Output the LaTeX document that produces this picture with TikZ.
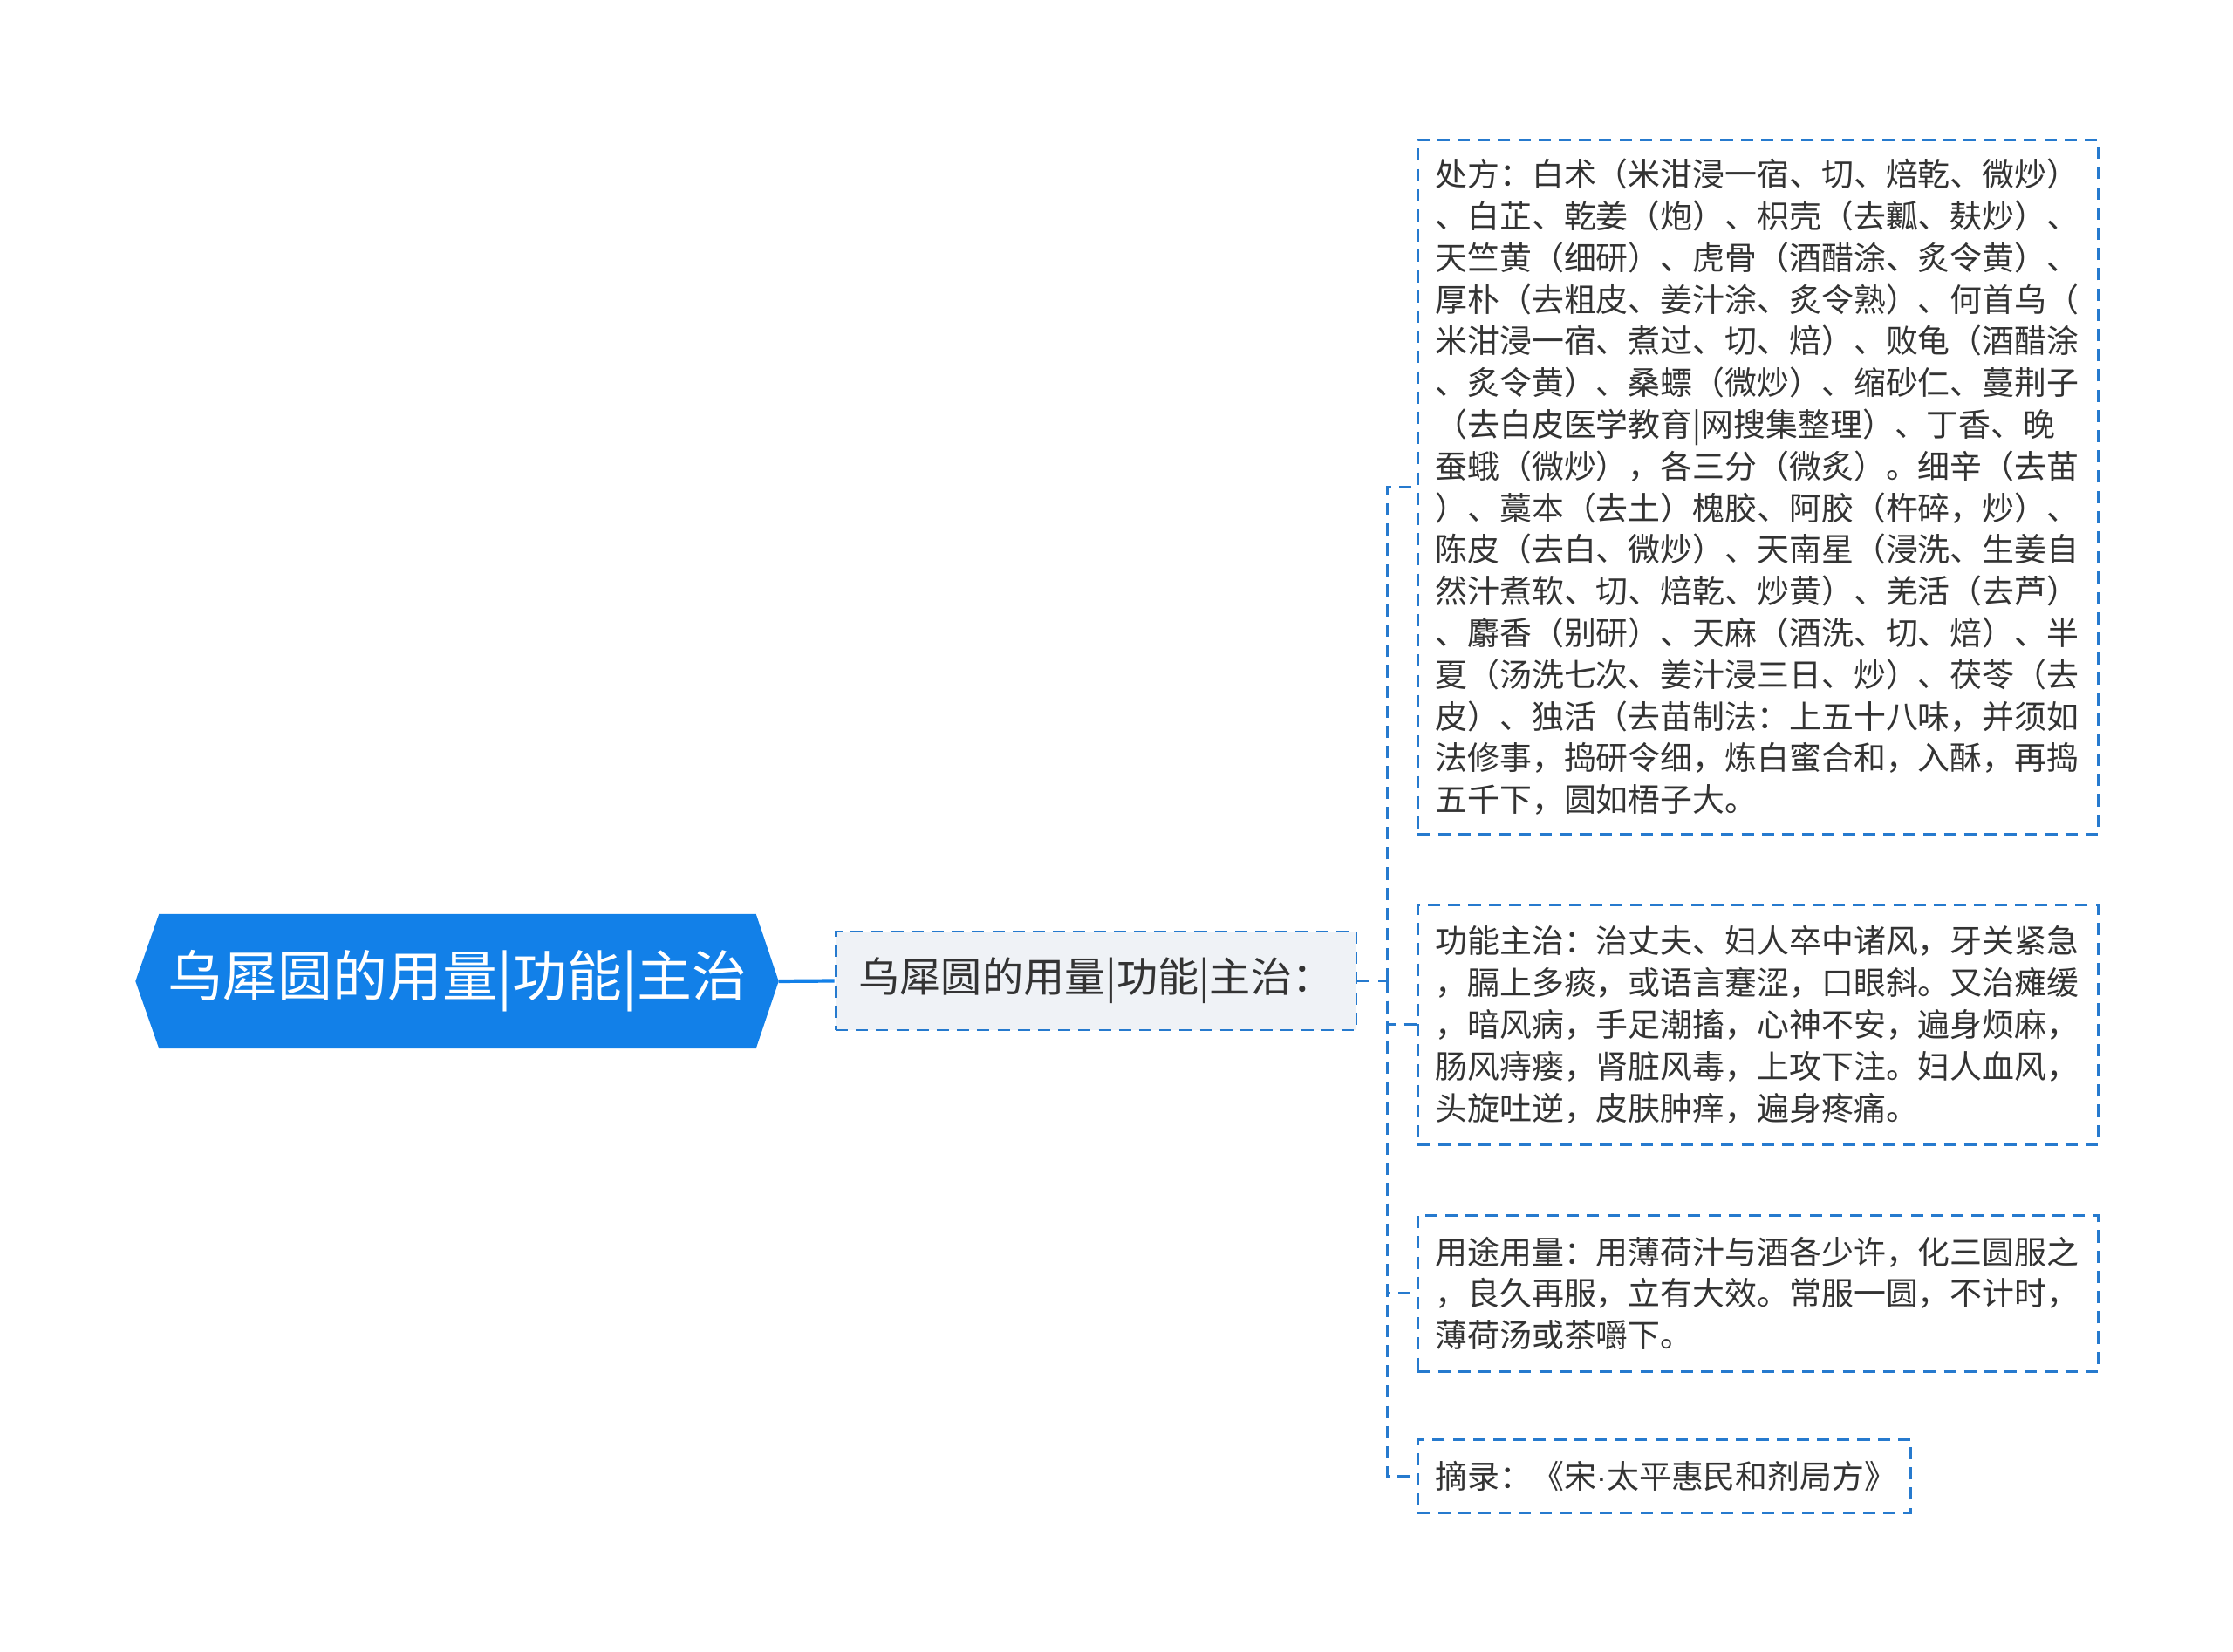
\documentclass[tikz,border=0pt]{standalone}
\usepackage{fontspec}
\newfontfamily\cjkfont{Noto Sans CJK SC}
\newfontfamily\dotfont{Liberation Sans}
\usepackage{tikz}
\usetikzlibrary{
positioning,
calc,
backgrounds
}
\definecolor{rootblue}{RGB}{18,128,232}
\definecolor{edgeblue}{RGB}{38,122,206}
\definecolor{subfill}{RGB}{239,242,246}
\definecolor{txtgray}{RGB}{51,51,51}

\begin{document}
\begin{tikzpicture}[
    box/.style={draw=edgeblue, line width=0.8pt, dash pattern=on 4pt off 2.6pt,
      anchor=north west, align=left, text width=7.4cm, inner xsep=0.2cm, inner ysep=0pt,
      text=txtgray, font=\cjkfont\fontsize{10.5pt}{13.6pt}\selectfont},
    link/.style={edgeblue, line width=0.8pt, dash pattern=on 4pt off 2.6pt},
    rootbox/.style={rectangle, minimum width=6.83cm, minimum height=1.53cm, inner sep=0pt,
      text=white, font=\cjkfont\fontsize{17.9pt}{20pt}\selectfont},
    subbox/.style={draw=edgeblue, fill=subfill, line width=0.8pt, dash pattern=on 4pt off 2.6pt,
      minimum width=5.97cm, minimum height=1.13cm, inner sep=0pt,
      text=txtgray, font=\cjkfont\fontsize{13.4pt}{16pt}\selectfont}]
    \useasboundingbox (0,0) rectangle (25.6,18.93);
    \node[rootbox] (root) at (5.245,7.68) {乌犀圆的用量|功能|主治};
    \begin{scope}[on background layer]
    \fill[rootblue] (root.north west) -- (root.north east) -- ([xshift=0.26cm]root.east)
      -- (root.south east) -- (root.south west) -- ([xshift=-0.27cm]root.west) -- cycle;
    \end{scope}
    \node[subbox] (sub) at (12.565,7.685) {乌犀圆的用量|功能|主治：};
    \node[box, minimum height=7.96cm] (cf) at (16.24,17.34) {处方：白术（米泔浸一宿、切、焙乾、微炒）\\
      、白芷、乾姜（炮）、枳壳（去瓤、麸炒）、\\
      天竺黄（细研）、虎骨（酒醋涂、炙令黄）、\\
      厚朴（去粗皮、姜汁涂、炙令熟）、何首乌（\\
      米泔浸一宿、煮过、切、焙）、败龟（酒醋涂\\
      、炙令黄）、桑螵（微炒）、缩砂仁、蔓荆子\\
      （去白皮医学教育|网搜集整理）、丁香、晚\\
      蚕蛾（微炒），各三分（微炙）。细辛（去苗\\
      ）、藁本（去土）槐胶、阿胶（杵碎，炒）、\\
      陈皮（去白、微炒）、天南星（浸洗、生姜自\\
      然汁煮软、切、焙乾、炒黄）、羌活（去芦）\\
      、麝香（别研）、天麻（酒洗、切、焙）、半\\
      夏（汤洗七次、姜汁浸三日、炒）、茯苓（去\\
      皮）、独活（去苗制法：上五十八味，并须如\\
      法修事，捣研令细，炼白蜜合和，入酥，再捣\\
      五千下，圆如梧子大。};
    \node[box, minimum height=2.75cm] (gn) at (16.24,8.57) {功能主治：治丈夫、妇人卒中诸风，牙关紧急\\
      ，膈上多痰，或语言蹇涩，口眼斜。又治瘫缓\\
      ，暗风病，手足潮搐，心神不安，遍身烦麻，\\
      肠风痔瘘，肾脏风毒，上攻下注。妇人血风，\\
      头旋吐逆，皮肤肿痒，遍身疼痛。};
    \node[box, minimum height=1.79cm] (yt) at (16.24,5.01) {用途用量：用薄荷汁与酒各少许，化三圆服之\\
      ，良久再服，立有大效。常服一圆，不计时，\\
      薄荷汤或茶嚼下。};
    \node[box, minimum height=0.84cm, text width=5.25cm] (zl) at (16.24,2.44) {摘录：《宋{\dotfont ·}太平惠民和剂局方》};
    \coordinate (trunk) at ($(sub.east)+(0.34,0)$);
    \draw[rootblue, line width=1.2pt] ([xshift=0.26cm]root.east) -- (sub.west);
    \draw[link] (sub.east) -- (trunk);
    \draw[link] (trunk) |- (cf.west);
    \draw[link] (trunk) |- (gn.west);
    \draw[link] (trunk) |- (yt.west);
    \draw[link] (trunk) |- (zl.west);
\end{tikzpicture}
\end{document}
